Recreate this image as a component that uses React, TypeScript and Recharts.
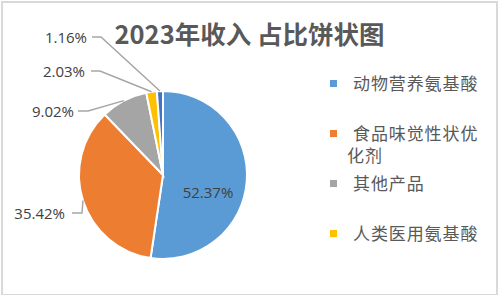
import { PieChart, Pie, Cell } from 'recharts';

const categories = ['动物营养氨基酸', '食品味觉性状优化剂', '其他产品', '人类医用氨基酸', '其他氨基酸'];
const shares = [52.37, 35.42, 9.02, 2.03, 1.16];
const sliceColors = ['#5B9BD5', '#ED7D31', '#A5A5A5', '#FFC000', '#4472C4'];
const legendCount = 4;

const data = categories.map((name, i) => ({ name, value: shares[i] }));

// label placement relative to pie centre: elbow of the leader line and where the text ends
const labelLayout: Record<number, { ex: number; ey: number; lineEnd: number; textEnd: number }> = {
  1: { ex: -81, ey: 38, lineEnd: -91, textEnd: -98 },
  2: { ex: -75, ey: -64, lineEnd: -85, textEnd: -89 },
  3: { ex: -63, ey: -104, lineEnd: -72, textEnd: -78 },
  4: { ex: -62, ey: -138, lineEnd: -71, textEnd: -76 },
};

const RADIAN = Math.PI / 180;
const labelFont = '"Open Sans", "Noto Sans", sans-serif';

function renderLabel(props: any) {
  const { cx, cy, midAngle, outerRadius, index, value } = props;
  const text = `${Number(value).toFixed(2)}%`;
  if (index === 0) {
    return (
      <text x={cx + 45} y={cy + 17} textAnchor="middle" dominantBaseline="central"
        fontSize={15} fontFamily={labelFont} fill="#404040">
        {text}
      </text>
    );
  }
  const l = labelLayout[index];
  const px = cx + outerRadius * Math.cos(-midAngle * RADIAN);
  const py = cy + outerRadius * Math.sin(-midAngle * RADIAN);
  const ex = cx + l.ex;
  const ey = cy + l.ey;
  return (
    <g>
      <polyline points={`${px},${py} ${ex},${ey} ${cx + l.lineEnd},${ey}`}
        fill="none" stroke="#A6A6A6" strokeWidth={1.5} />
      <text x={cx + l.textEnd} y={ey} textAnchor="end" dominantBaseline="central"
        fontSize={15} fontFamily={labelFont} fill="#404040">
        {text}
      </text>
    </g>
  );
}

function ChartLegend() {
  return (
    <div style={{ position: 'absolute', left: 328, top: 72, fontFamily: '"Noto Sans CJK SC", sans-serif', fontSize: 17, letterSpacing: 0.9, color: '#595959' }}>
      {categories.slice(0, legendCount).map((name, i) => (
        <div key={name} style={{ position: 'relative', height: 50 }}>
          <span style={{ position: 'absolute', left: 2, top: 8, width: 7, height: 7, background: sliceColors[i] }} />
          <div style={{ marginLeft: 19, width: 136, lineHeight: '22px', textIndent: 6 }}>{name}</div>
        </div>
      ))}
    </div>
  );
}

export default function App() {
  return (
    <div style={{ position: 'absolute', left: 0, top: 0, width: 499, height: 295, background: '#fff' }}>
      <style>{'body{margin:0}'}</style>
      <div style={{ position: 'absolute', left: 1, top: 1, width: 493, height: 291, border: '2px solid #D9D9D9' }} />
      <div style={{ position: 'absolute', left: 0, top: 15, width: 499, textAlign: 'center', fontFamily: '"Noto Sans CJK SC", sans-serif', fontWeight: 700, fontSize: 25.5, lineHeight: '36px', color: '#595959' }}>
        2023年收入 占比饼状图
      </div>
      <div style={{ position: 'absolute', left: 0, top: 0 }}>
        <PieChart width={499} height={295} margin={{ top: 0, right: 0, bottom: 0, left: 0 }}>
          <Pie
            data={data}
            dataKey="value"
            nameKey="name"
            cx={163}
            cy={175}
            outerRadius={84}
            startAngle={90}
            endAngle={-270}
            stroke="#FFFFFF"
            strokeWidth={2}
            label={renderLabel}
            labelLine={false}
            isAnimationActive={false}
          >
            {data.map((d, i) => (
              <Cell key={d.name} fill={sliceColors[i]} />
            ))}
          </Pie>
        </PieChart>
      </div>
      <ChartLegend />
    </div>
  );
}
